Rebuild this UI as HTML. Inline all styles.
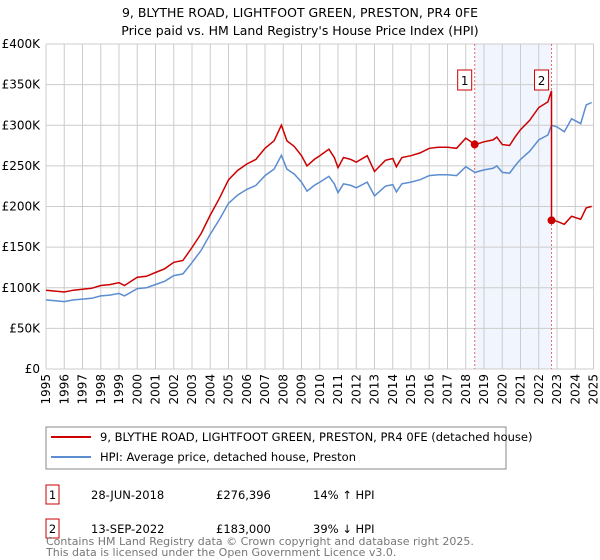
<!DOCTYPE html>
<html><head><meta charset="utf-8"><style>
body{margin:0;background:#fff;font-family:"Liberation Sans","DejaVu Sans",sans-serif}
svg{display:block}
</style></head><body>
<svg id="c" width="600" height="560" viewBox="0 0 600 560" font-family="DejaVu Sans, Liberation Sans, sans-serif">
<text x="300" y="17" text-anchor="middle" font-size="12.5" fill="#000">9, BLYTHE ROAD, LIGHTFOOT GREEN, PRESTON, PR4 0FE</text>
<text x="300" y="35" text-anchor="middle" font-size="12.5" fill="#000">Price paid vs. HM Land Registry's House Price Index (HPI)</text>
<g id="grid"></g><g id="marks"></g><g id="axes"></g>
<g>
<rect x="46" y="427" width="460" height="42" fill="#fff" stroke="#888"/>
<line x1="51" y1="437" x2="91" y2="437" stroke="#cc0000" stroke-width="2"/>
<text x="100" y="441" font-size="11.5">9, BLYTHE ROAD, LIGHTFOOT GREEN, PRESTON, PR4 0FE (detached house)</text>
<line x1="51" y1="457" x2="91" y2="457" stroke="#5b8dd0" stroke-width="2"/>
<text x="100" y="461" font-size="11.5">HPI: Average price, detached house, Preston</text>
</g>
<g font-size="11.5">
<rect x="46" y="485" width="13" height="19" fill="#fff" stroke="#cc0000"/>
<text x="52.5" y="499" text-anchor="middle">1</text>
<text x="91" y="499">28-JUN-2018</text>
<text x="216" y="499">£276,396</text>
<text x="313" y="499">14% ↑ HPI</text>
<rect x="46" y="519" width="13" height="19" fill="#fff" stroke="#cc0000"/>
<text x="52.5" y="533" text-anchor="middle">2</text>
<text x="91" y="533">13-SEP-2022</text>
<text x="216" y="533">£183,000</text>
<text x="313" y="533">39% ↓ HPI</text>
</g>
<text x="46" y="545" font-size="11" fill="#777">Contains HM Land Registry data © Crown copyright and database right 2025.</text>
<text x="46" y="556" font-size="11" fill="#777">This data is licensed under the Open Government Licence v3.0.</text>
</svg>
<script>
const hpiYears=[1995,1995.5,1996,1996.5,1997,1997.5,1998,1998.5,1999,1999.3,2000,2000.5,2001,2001.5,2002,2002.5,2003,2003.5,2004,2004.5,2005,2005.5,2006,2006.5,2007,2007.5,2007.9,2008.2,2008.6,2009,2009.3,2009.7,2010,2010.5,2010.8,2011,2011.3,2011.7,2012,2012.6,2013,2013.6,2014,2014.2,2014.5,2015,2015.5,2016,2016.5,2017,2017.5,2018,2018.5,2019,2019.5,2019.7,2020,2020.4,2020.7,2021,2021.5,2022,2022.5,2022.7,2023,2023.4,2023.8,2024.3,2024.6,2024.9];
const hpiValues=[85,84,83,85,86,87,90,91,93,90,99,100,104,108,115,117,131,146,166,184,204,214,221,226,238,246,263,246,240,230,219,226,230,237,228,217,228,226,223,230,213,225,227,218,228,230,233,238,239,239,238,249,242,245,247,250,242,241,250,258,268,282,288,300,298,292,308,302,325,328];
const sales=[{year:2018.49,price:276.396,label:'1'},{year:2022.7,price:183,label:'2'}];
const yTicks=[0,50,100,150,200,250,300,350,400];
const yTickLabels=['£0','£50K','£100K','£150K','£200K','£250K','£300K','£350K','£400K'];
const xTickYears=[1995,1996,1997,1998,1999,2000,2001,2002,2003,2004,2005,2006,2007,2008,2009,2010,2011,2012,2013,2014,2015,2016,2017,2018,2019,2020,2021,2022,2023,2024,2025];

const X0=46,X1=593.5,Y0=369,Y1=44;
const xs=y=>X0+(y-1995)/30*(X1-X0);
const ys=v=>Y0-v/400*(Y0-Y1);
const NS='http://www.w3.org/2000/svg';
function mk(parent,tag,attrs){const e=document.createElementNS(NS,tag);for(const k in attrs)e.setAttribute(k,attrs[k]);document.getElementById(parent).appendChild(e);return e;}
function hpiAt(y){for(let i=0;i<hpiYears.length-1;i++){if(y<=hpiYears[i+1]){const t=(y-hpiYears[i])/(hpiYears[i+1]-hpiYears[i]);return hpiValues[i]+t*(hpiValues[i+1]-hpiValues[i]);}}return hpiValues[hpiValues.length-1];}

let e=mk('grid','rect',{x:xs(sales[0].year),y:Y1,width:xs(sales[1].year)-xs(sales[0].year),height:Y0-Y1,fill:'#eef3fc',opacity:0.8});


yTicks.forEach((v,i)=>{
  let l=mk('grid','line',{x1:X0,x2:X1,y1:ys(v),y2:ys(v),stroke:'#cccccc','stroke-width':1});
  
  
  let t=mk('axes','text',{x:X0-6,y:ys(v)+4,'text-anchor':'end','font-size':12});
  t.textContent=yTickLabels[i];
  
  
});
xTickYears.forEach(yr=>{
  let l=mk('grid','line',{x1:xs(yr),x2:xs(yr),y1:Y1,y2:Y0,stroke:'#cccccc','stroke-width':1});
  
  
  let t=mk('axes','text',{x:0,y:0,'text-anchor':'end','font-size':12,transform:`translate(${xs(yr)+4},${Y0+5}) rotate(-90)`});
  t.textContent=yr;
  
  
});
sales.forEach((s,i)=>{
  let l=mk('grid','line',{x1:xs(s.year),x2:xs(s.year),y1:Y1,y2:Y0,stroke:'#ee6666','stroke-width':1,'stroke-dasharray':'2,2'});
  
  
});
let hp=hpiYears.map((y,i)=>(i?'L':'M')+xs(y).toFixed(1)+','+ys(hpiValues[i]).toFixed(1)).join('');
e=mk('marks','path',{d:hp,fill:'none',stroke:'#5b8dd0','stroke-width':1.5});


const f1=sales[0].price/hpiAt(sales[0].year), f2=sales[1].price/hpiAt(sales[1].year);
let pts=[];
hpiYears.forEach((y,i)=>{ if(y<sales[1].year) pts.push([y,hpiValues[i]*f1]); });
pts.push([sales[1].year,hpiAt(sales[1].year)*f1]);
pts.push([sales[1].year,sales[1].price]);
hpiYears.forEach((y,i)=>{ if(y>sales[1].year) pts.push([y,hpiValues[i]*f2]); });
let rp=pts.map((p,i)=>(i?'L':'M')+xs(p[0]).toFixed(1)+','+ys(p[1]).toFixed(1)).join('');
e=mk('marks','path',{d:rp,fill:'none',stroke:'#cc0000','stroke-width':1.5});


sales.forEach(s=>{
  let c=mk('marks','circle',{cx:xs(s.year),cy:ys(s.price),r:4,fill:'#cc0000'});
  
  
  let b=mk('marks','rect',{x:xs(s.year)-17,y:70,width:14,height:20,fill:'#fff',stroke:'#cc0000'});
  
  
  let t=mk('marks','text',{x:xs(s.year)-10,y:85,'text-anchor':'middle','font-size':12});
  t.textContent=s.label;
  
  
});
</script>
</body></html>
